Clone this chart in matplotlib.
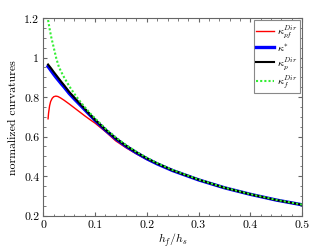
import numpy as np
import matplotlib
matplotlib.use("Agg")
import matplotlib.pyplot as plt
from matplotlib.ticker import MultipleLocator

plt.rcParams['font.family'] = 'cmr10'
plt.rcParams['mathtext.fontset'] = 'cm'
plt.rcParams['axes.formatter.use_mathtext'] = True

# values
x_pf = [0.009, 0.010, 0.012, 0.014, 0.017, 0.02, 0.024, 0.028, 0.033, 0.04,
        0.05, 0.06, 0.07, 0.08, 0.09, 0.1, 0.12, 0.14, 0.16, 0.18, 0.2, 0.22,
        0.25, 0.3, 0.35, 0.4, 0.45, 0.5]
k_pf = [0.69, 0.72, 0.757, 0.778, 0.794, 0.802, 0.805, 0.803, 0.796, 0.784,
        0.765, 0.745, 0.725, 0.705, 0.686, 0.668, 0.625, 0.578, 0.543, 0.512,
        0.484, 0.46, 0.426, 0.38, 0.34, 0.307, 0.278, 0.254]

x_grid = [0.009, 0.012, 0.015, 0.02, 0.025, 0.03, 0.035, 0.04, 0.05, 0.06, 0.07,
          0.08, 0.09, 0.1, 0.12, 0.14, 0.16, 0.18, 0.2, 0.22, 0.25, 0.3, 0.35,
          0.4, 0.45, 0.5]
k_star = [0.955, 0.944, 0.933, 0.915, 0.898, 0.882, 0.866, 0.851, 0.818, 0.79,
          0.763, 0.736, 0.709, 0.682, 0.633, 0.589, 0.551, 0.518, 0.488, 0.462,
          0.428, 0.381, 0.341, 0.308, 0.279, 0.255]
k_p = [0.965, 0.955, 0.945, 0.927, 0.91, 0.893, 0.876, 0.86, 0.826, 0.797,
       0.769, 0.741, 0.712, 0.685, 0.635, 0.591, 0.553, 0.52, 0.49, 0.464,
       0.429, 0.382, 0.341, 0.308, 0.279, 0.255]
k_f = [1.19, 1.145, 1.105, 1.05, 0.995, 0.952, 0.925, 0.90, 0.855, 0.816,
       0.781, 0.749, 0.719, 0.692, 0.641, 0.596, 0.557, 0.523, 0.493, 0.466,
       0.431, 0.383, 0.342, 0.309, 0.28, 0.256]

x_ticks = [0, 0.1, 0.2, 0.3, 0.4, 0.5]
x_labels = ['0', '0.1', '0.2', '0.3', '0.4', '0.5']
y_ticks = [0.2, 0.4, 0.6, 0.8, 1.0, 1.2]
y_labels = ['0.2', '0.4', '0.6', '0.8', '1', '1.2']


def main():
    fig = plt.figure(figsize=(3.34, 2.51), dpi=100)
    ax = fig.add_axes([0.130, 0.137, 0.774, 0.787])

    ax.plot(x_pf, k_pf, color='red', lw=1.0, label=r'$\kappa_{pf}^{Dir}$')
    ax.plot(x_grid, k_star, color='blue', lw=2.4, label=r'$\kappa^{*}$')
    ax.plot(x_grid, k_p, color='black', lw=1.5, label=r'$\kappa_{p}^{Dir}$')
    ax.plot(x_grid, k_f, color='#33ee33', lw=1.5, ls=(0, (1, 1)),
            label=r'$\kappa_{f}^{Dir}$')

    ax.set_xlim(0, 0.5)
    ax.set_ylim(0.2, 1.2)
    ax.set_xticks(x_ticks)
    ax.set_xticklabels(x_labels)
    ax.set_yticks(y_ticks)
    ax.set_yticklabels(y_labels)
    ax.xaxis.set_minor_locator(MultipleLocator(0.02))
    ax.yaxis.set_minor_locator(MultipleLocator(0.05))
    ax.tick_params(which='both', direction='in', top=True, right=True,
                   color='#666666', labelsize=8.5, pad=3)
    ax.tick_params(which='major', length=3)
    ax.tick_params(which='minor', length=1.8)
    for s in ax.spines.values():
        s.set_color('#666666')
        s.set_linewidth(0.8)

    ax.set_xlabel(r'$h_f/h_s$', fontsize=8.5, labelpad=1)
    ax.set_ylabel('normalized curvatures', fontsize=8.5, labelpad=4)

    leg = ax.legend(loc='upper right', fontsize=7.5, fancybox=False,
                    edgecolor='#888888', framealpha=1, handlelength=1.7,
                    handletextpad=0.25, labelspacing=0.15, borderpad=0.25,
                    borderaxespad=0.2)
    leg.get_frame().set_linewidth(0.8)

    fig.savefig('out.png', dpi=100)


if __name__ == '__main__':
    main()
